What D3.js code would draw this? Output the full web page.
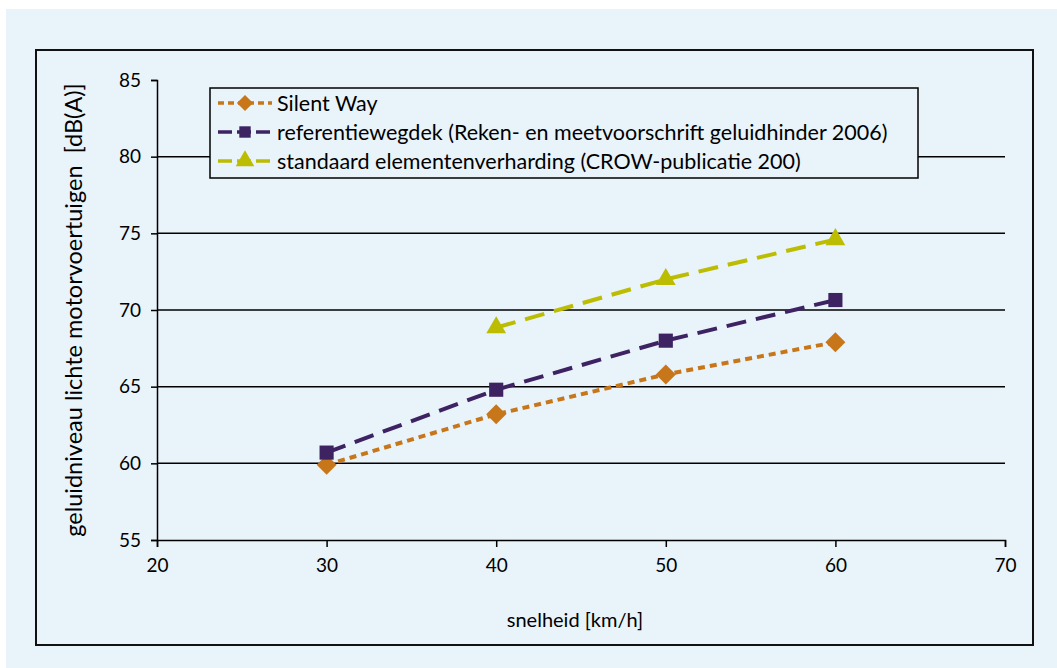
<!DOCTYPE html>
<html>
<head>
<meta charset="utf-8">
<script src="https://cdn.jsdelivr.net/npm/d3@7"></script>
<style>
  body { margin: 0; background: #fff; }
  svg { display: block; }
</style>
</head>
<body>
<div id="chart"></div>
<script>
const speeds = [30, 40, 50, 60];
const silentWay = [59.9, 63.2, 65.8, 67.9];
const referentie = [60.7, 64.8, 68.0, 70.65];
const standaardSpeeds = [40, 50, 60];
const standaard = [68.85, 72.0, 74.6];
const xTicks = [20, 30, 40, 50, 60, 70];
const yTicks = [55, 60, 65, 70, 75, 80, 85];

const series = [
  {name: "Silent Way", x: speeds, y: silentWay, color: "#c8761a", dash: "7,5", symbol: "diamond"},
  {name: "referentiewegdek (Reken- en meetvoorschrift geluidhinder 2006)", x: speeds, y: referentie, color: "#3e2363", dash: "20,10", symbol: "square"},
  {name: "standaard elementenverharding (CROW-publicatie 200)", x: standaardSpeeds, y: standaard, color: "#bcbc00", dash: "20,10", symbol: "triangle"}
];

const W = 1057, H = 668;
const margin = {top: 80, left: 157, right: 52, bottom: 128};
const font = "Lato, 'Open Sans', sans-serif";

const svg = d3.select("#chart").append("svg")
  .attr("width", W).attr("height", H);

// background + frame
svg.append("rect").attr("x", 6).attr("y", 9).attr("width", W - 6).attr("height", H - 9)
  .attr("fill", "#e8f3fa");
svg.append("rect").attr("x", 36).attr("y", 50).attr("width", 997).attr("height", 595)
  .attr("fill", "none").attr("stroke", "#111").attr("stroke-width", 2);

const x = d3.scaleLinear().domain([20, 70]).range([margin.left, W - margin.right]);
const y = d3.scaleLinear().domain([55, 85]).range([H - margin.bottom, margin.top]);

// gridlines
svg.append("g").selectAll("line")
  .data(yTicks.filter(v => v > 55 && v < 85))
  .enter().append("line")
  .attr("x1", x(20)).attr("x2", x(70))
  .attr("y1", d => y(d)).attr("y2", d => y(d))
  .attr("stroke", "#000").attr("stroke-width", 1.5);

// axes
const xAxis = svg.append("g")
  .attr("transform", `translate(0,${y(55)})`)
  .call(d3.axisBottom(x).tickValues(xTicks).tickSize(7).tickPadding(12));
const yAxis = svg.append("g")
  .attr("transform", `translate(${x(20)},0)`)
  .call(d3.axisLeft(y).tickValues(yTicks).tickSize(6).tickPadding(10));
[xAxis, yAxis].forEach(a => {
  a.selectAll("path, line").attr("stroke", "#000").attr("stroke-width", 1.5);
  a.selectAll("text").attr("font-family", font).attr("font-size", 19).attr("fill", "#000");
});

// axis titles
svg.append("text")
  .attr("x", 575).attr("y", 627)
  .attr("text-anchor", "middle")
  .attr("font-family", font).attr("font-size", 20)
  .text("snelheid [km/h]");
svg.append("text")
  .attr("transform", `translate(82,${y(70)}) rotate(-90)`)
  .attr("text-anchor", "middle")
  .attr("font-family", font).attr("font-size", 23.5)
  .attr("xml:space", "preserve")
  .text("geluidniveau lichte motorvoertuigen  [dB(A)]");

// series
const symbolType = {diamond: d3.symbolSquare, square: d3.symbolSquare, triangle: d3.symbolTriangle};
series.forEach(s => {
  const pts = s.x.map((v, i) => [v, s.y[i]]);
  svg.append("path")
    .datum(pts)
    .attr("fill", "none")
    .attr("stroke", s.color)
    .attr("stroke-width", 4)
    .attr("stroke-dasharray", s.dash)
    .attr("d", d3.line().x(d => x(d[0])).y(d => y(d[1])));
  svg.append("g").selectAll("path")
    .data(pts).enter().append("path")
    .attr("transform", d => `translate(${x(d[0])},${y(d[1])})` + (s.symbol === "diamond" ? " rotate(45)" : ""))
    .attr("d", d3.symbol().type(symbolType[s.symbol]).size(s.symbol === "triangle" ? 170 : 200))
    .attr("fill", s.color);
});

// legend
const legend = svg.append("g").attr("transform", "translate(210,88)");
legend.append("rect").attr("width", 708).attr("height", 90)
  .attr("fill", "#e8f3fa").attr("stroke", "#000").attr("stroke-width", 1.5);
series.forEach((s, i) => {
  const ly = 15 + i * 29;
  legend.append("line")
    .attr("x1", 8).attr("x2", 62).attr("y1", ly).attr("y2", ly)
    .attr("stroke", s.color).attr("stroke-width", 3.5)
    .attr("stroke-dasharray", i === 0 ? "6,4" : "14,5");
  legend.append("path")
    .attr("transform", `translate(35,${ly})` + (s.symbol === "diamond" ? " rotate(45)" : ""))
    .attr("d", d3.symbol().type(symbolType[s.symbol]).size(s.symbol === "triangle" ? 150 : 130))
    .attr("fill", s.color);
  legend.append("text")
    .attr("x", 67).attr("y", ly)
    .attr("dominant-baseline", "central")
    .attr("font-family", font).attr("font-size", 21.5)
    .text(s.name);
});
</script>
</body>
</html>
